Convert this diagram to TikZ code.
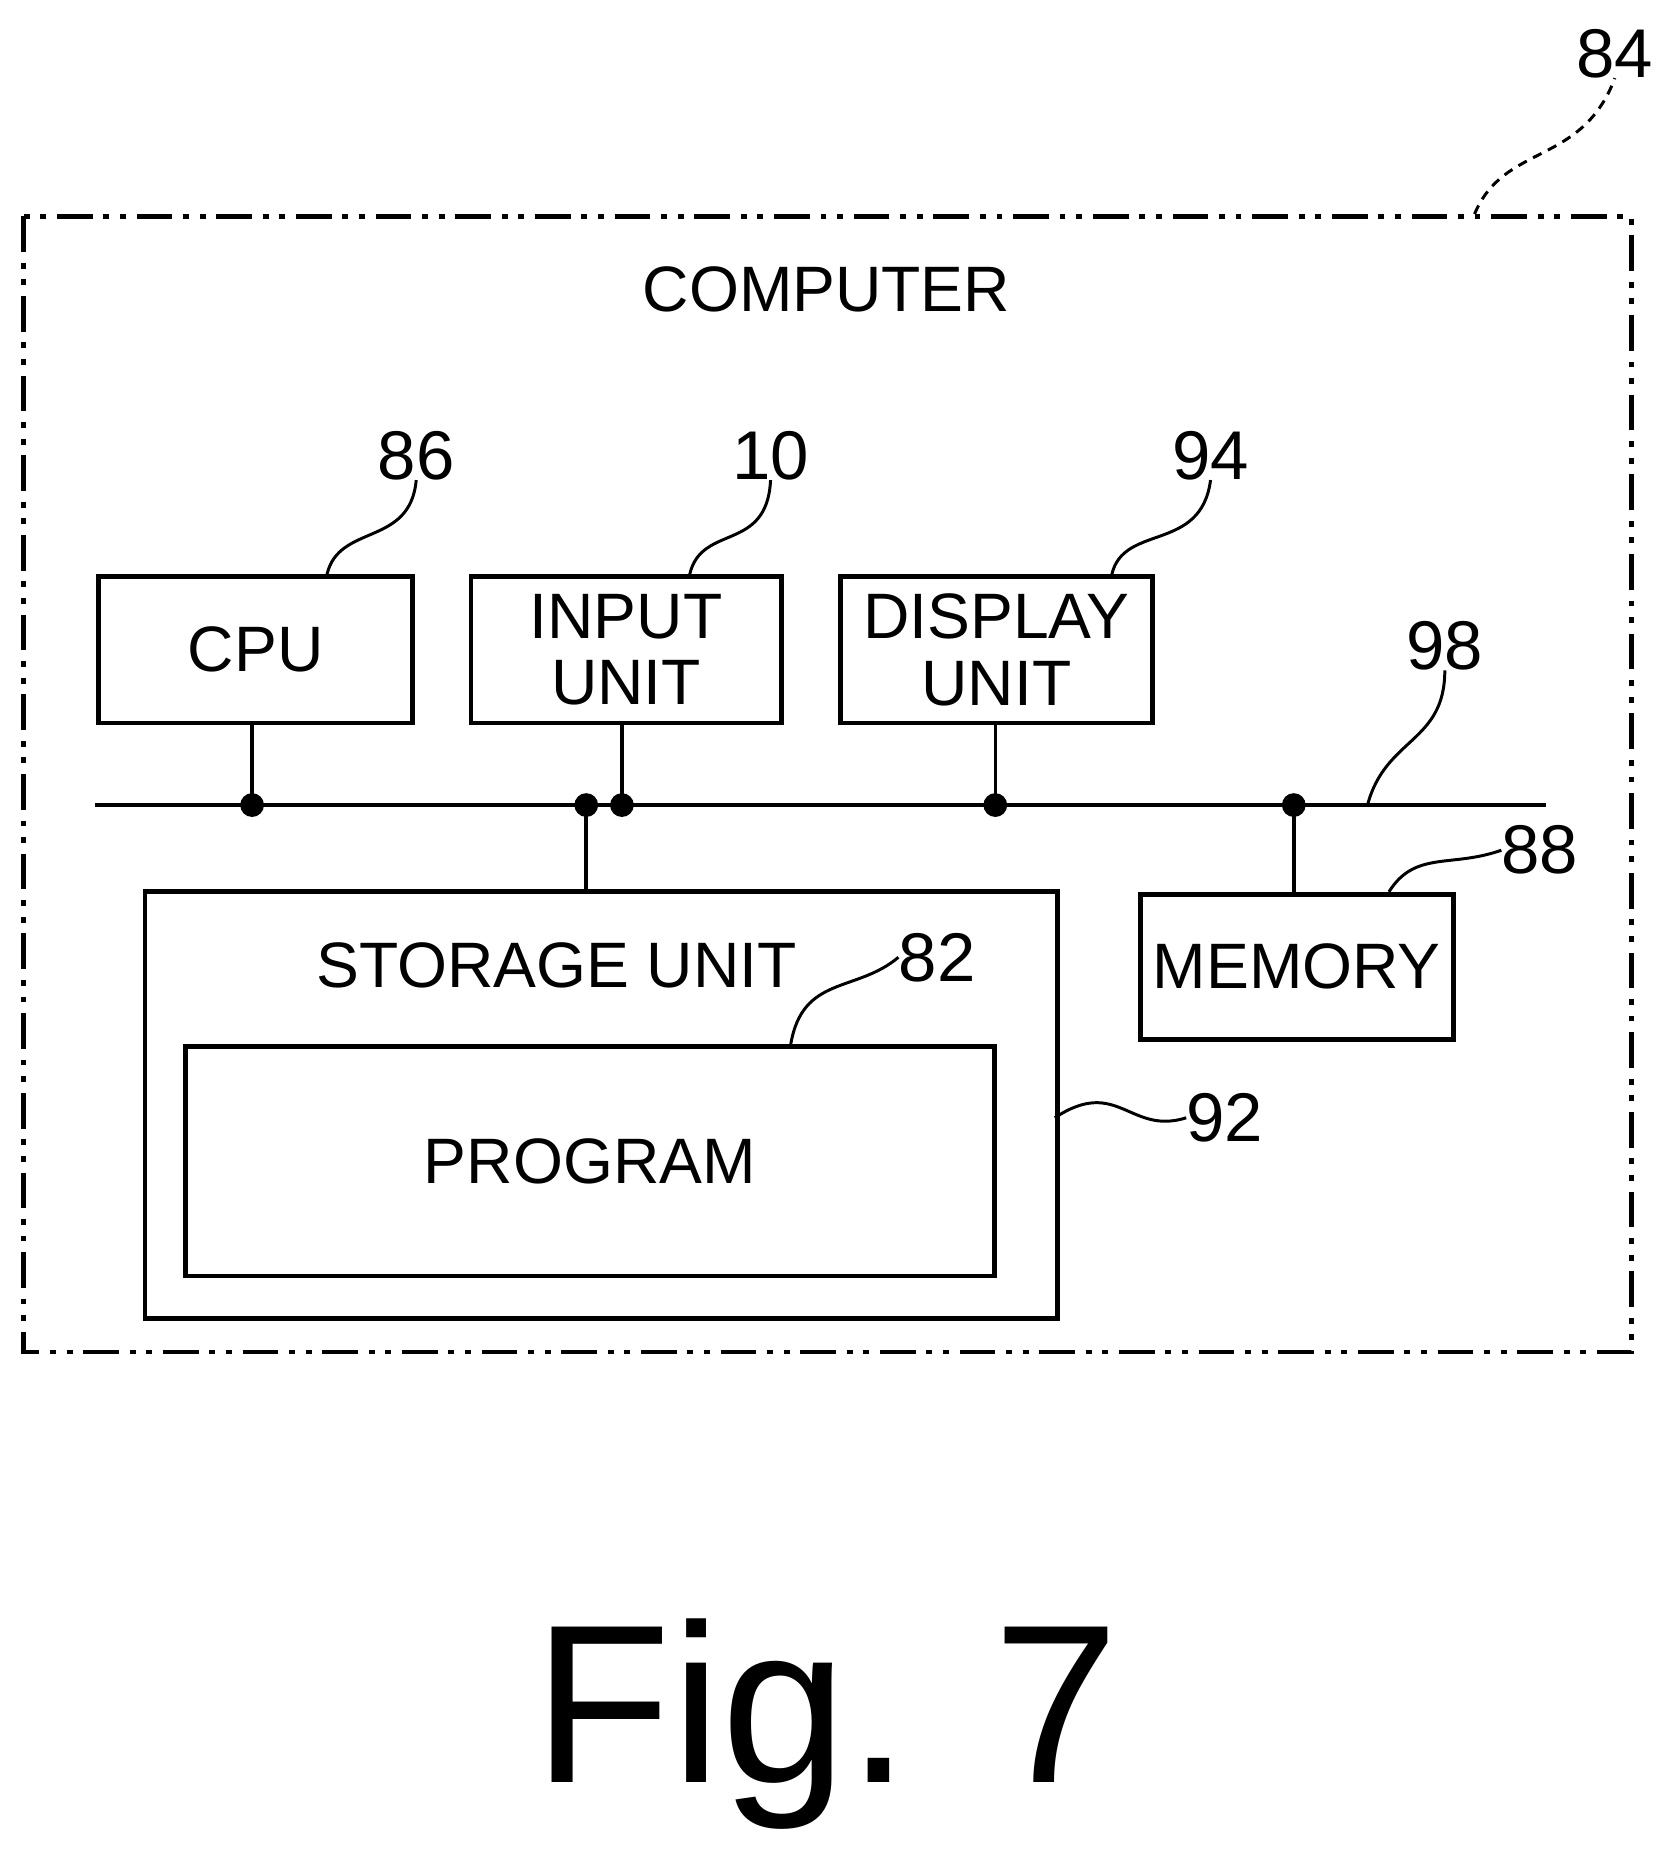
\documentclass[tikz,border=0pt]{standalone}
\usepackage{fontspec}
\setmainfont{Liberation Sans}
\usetikzlibrary{positioning}
\newcommand{\lblfont}{\fontsize{54}{54}\selectfont}
\newcommand{\twofont}{\fontsize{54}{56}\selectfont}
\newcommand{\numfont}{\fontsize{58}{58}\selectfont}
\tikzset{
    boxsty/.style={draw,line width=4pt,rectangle,anchor=north west,inner sep=0pt},
    framesty/.style={draw,line width=4pt,dash pattern=on 30pt off 9pt on 5pt off 9pt on 5pt off 9pt},
    txtsty/.style={font=\lblfont,align=center,inner sep=0pt},
    numsty/.style={font=\numfont,inner sep=0pt},
    leadsty/.style={line width=2.5pt},
    bussty/.style={line width=3pt},
    dotsty/.style={circle,fill,inner sep=0pt,minimum size=20pt},
}
\begin{document}
\begin{tikzpicture}[x=1pt,y=-1pt]
  \useasboundingbox (0,0) rectangle (1410,1565);

  % outer frame
  \draw[framesty] (20,182) rectangle (1372,1137);
  \node[txtsty] (comp) at (695,243) {COMPUTER};
  \node[numsty] (n84) at (1358,45) {84};
  \coordinate (c84) at (1240,180);
  \draw[leadsty,dash pattern=on 8pt off 6pt] (c84) .. controls (1265,120) and (1330,140) .. (n84.south);

  % boxes
  \node[boxsty,minimum width=264pt,minimum height=123pt] (cpu) at (81,483) {};
  \node[txtsty] at (cpu.center) {CPU};
  \node[boxsty,minimum width=261pt,minimum height=123pt] (inp) at (394,483) {};
  \node[txtsty,font=\twofont] at (inp.center) {INPUT\\UNIT};
  \node[boxsty,minimum width=262pt,minimum height=123pt] (disp) at (705,483) {};
  \node[txtsty,font=\twofont] at (disp.center) {DISPLAY\\UNIT};
  \node[boxsty,minimum width=767pt,minimum height=359pt] (stor) at (120,748) {};
  \node[txtsty] (stxt) at (468,812) {STORAGE UNIT};
  \node[boxsty,minimum width=680pt,minimum height=193pt] (prog) at (154,878) {};
  \node[txtsty] at (prog.center) {PROGRAM};
  \node[boxsty,minimum width=263pt,minimum height=122pt] (mem) at (957,750) {};
  \node[txtsty] at (mem.center) {MEMORY};

  % bus
  \coordinate (busl) at (80,677);
  \coordinate (busr) at (1300,677);
  \draw[bussty] (busl) -- (busr);
  \node[dotsty] (d1) at (212,677) {};
  \node[dotsty] (d2) at (493,677) {};
  \node[dotsty] (d3) at (523,677) {};
  \node[dotsty] (d4) at (837,677) {};
  \node[dotsty] (d5) at (1088,677) {};
  \draw[bussty] (cpu.south -| d1) -- (d1.center);
  \draw[bussty] (inp.south -| d3) -- (d3.center);
  \draw[bussty] (disp.south -| d4) -- (d4.center);
  \draw[bussty] (d2.center) -- (stor.north -| d2);
  \draw[bussty] (d5.center) -- (mem.north -| d5);

  % reference numbers
  \node[numsty] (n86) at (350,383) {86};
  \node[numsty] (n10) at (648,383) {10};
  \node[numsty] (n94) at (1018,383) {94};
  \node[numsty] (n98) at (1215,543) {98};
  \node[numsty] (n82) at (788,805) {82};
  \node[numsty] (n92) at (1030,940) {92};
  \node[numsty] (n88) at (1295,715) {88};
  \coordinate (c86) at (275,483);
  \coordinate (c10) at (580,483);
  \coordinate (c94) at (935,483);
  \coordinate (c98) at (1150,677);
  \coordinate (c82) at (665,878);
  \coordinate (c92) at (887,940);
  \coordinate (c88) at (1168,750);
  \draw[leadsty] (c86) .. controls (285,440) and (345,460) .. (n86.south);
  \draw[leadsty] (c10) .. controls (590,440) and (645,465) .. (n10.south);
  \draw[leadsty] (c94) .. controls (945,440) and (1010,465) .. (n94.south);
  \draw[leadsty] (c98) .. controls (1165,620) and (1215,625) .. (n98.south);
  \draw[leadsty] (c82) .. controls (675,820) and (720,835) .. (n82.west);
  \draw[leadsty] (c92) .. controls (940,905) and (950,955) .. (n92.west);
  \draw[leadsty] (c88) .. controls (1190,715) and (1220,730) .. (n88.west);

  \node[font=\fontsize{190}{190}\selectfont,inner sep=0pt] (fig) at (695,1450) {Fig. 7};
\end{tikzpicture}
\end{document}
